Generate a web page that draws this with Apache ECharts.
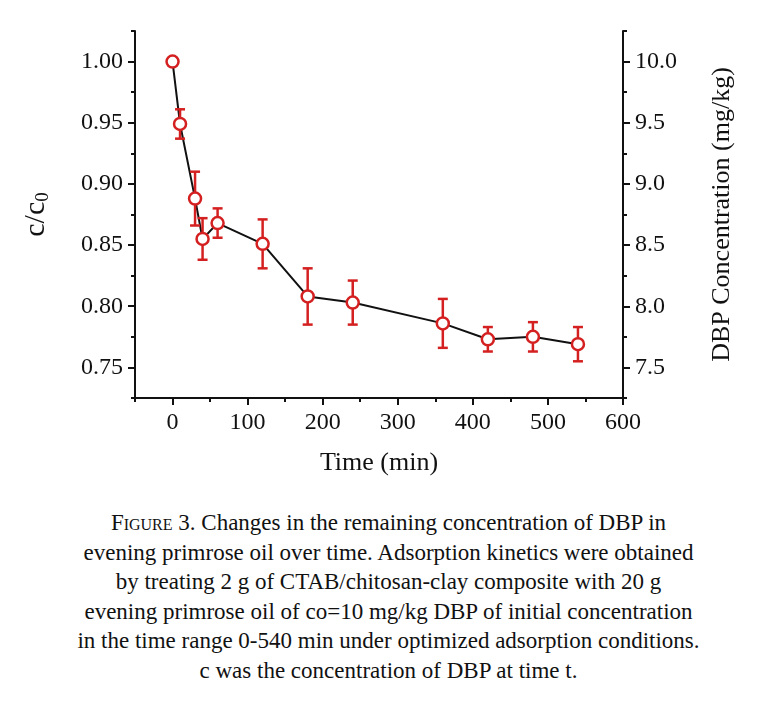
<!DOCTYPE html>
<html><head><meta charset="utf-8">
<script src="https://cdn.jsdelivr.net/npm/echarts@6/dist/echarts.min.js"></script>
<style>
body{margin:0;background:#fff;}
#c{position:absolute;left:0;top:0;width:777px;height:500px;}
#cap{position:absolute;left:0;top:508px;width:777px;text-align:center;font-family:"Liberation Serif","Times New Roman",serif;font-size:23px;line-height:29.5px;color:#111;}
.sc{font-variant:small-caps;}
</style></head>
<body>
<div id="c"></div>
<div id="cap"><span class="sc">Figure</span> 3. Changes in the remaining concentration of DBP in<br>evening primrose oil over time. Adsorption kinetics were obtained<br>by treating 2 g of CTAB/chitosan-clay composite with 20 g<br>evening primrose oil of co=10 mg/kg DBP of initial concentration<br>in the time range 0-540 min under optimized adsorption conditions.<br>c was the concentration of DBP at time t.</div>
<script>
const times = [0, 10, 30, 40, 60, 120, 180, 240, 360, 420, 480, 540];
const ratio = [1.000, 0.949, 0.888, 0.855, 0.868, 0.851, 0.808, 0.803, 0.786, 0.773, 0.775, 0.769];
const errs  = [0, 0.012, 0.022, 0.017, 0.012, 0.020, 0.023, 0.018, 0.020, 0.010, 0.012, 0.014];
const xTicks = [0, 100, 200, 300, 400, 500, 600];
const leftTicks = [0.75, 0.80, 0.85, 0.90, 0.95, 1.00];
const rightTicks = [7.5, 8.0, 8.5, 9.0, 9.5, 10.0];

const font = '"Liberation Serif","Times New Roman",serif';
const red = '#d42020';
const chart = echarts.init(document.getElementById('c'));
const pts = times.map((t,i)=>[t, ratio[i]]);
const errData = times.map((t,i)=>[t, ratio[i]-errs[i], ratio[i]+errs[i]]);
const lineStyle = {color:'#111', width:2};
const base = {axisLine:{show:false,onZero:false}, splitLine:{show:false}, axisLabel:{show:false}, axisTick:{show:true,inside:false,length:4,lineStyle:{color:'#111',width:2}}};
chart.setOption({
  animation:false,
  grid:{left:135, right:154, top:31, height:367},
  xAxis:[
    {type:'value', min:-50, max:600, position:'bottom',
     axisLine:{show:true,onZero:false,lineStyle:lineStyle}, splitLine:{show:false},
     axisTick:{show:true,customValues:xTicks,length:7,lineStyle:lineStyle},
     axisLabel:{customValues:xTicks,color:'#111',fontFamily:font,fontSize:24,margin:13},
     name:'Time (min)', nameLocation:'middle', nameGap:52,
     nameTextStyle:{color:'#111',fontFamily:font,fontSize:26}},
    Object.assign({type:'value', min:-50, max:600, interval:50, position:'bottom'}, base)
  ],
  yAxis:[
    {type:'value', min:0.725, max:1.025, position:'left',
     axisLine:{show:true,onZero:false,lineStyle:lineStyle}, splitLine:{show:false},
     axisTick:{show:true,customValues:leftTicks,length:7,lineStyle:lineStyle},
     axisLabel:{customValues:leftTicks,color:'#111',fontFamily:font,fontSize:24,margin:12,formatter:v=>v.toFixed(2)},
     name:'c/c{s|0}', nameLocation:'middle', nameGap:82, nameRotate:90,
     nameTextStyle:{color:'#111',fontFamily:font,fontSize:30,rich:{s:{fontFamily:font,fontSize:19,verticalAlign:'bottom',padding:[14,0,0,0]}}}},
    Object.assign({type:'value', min:0.725, max:1.025, interval:0.025, position:'left'}, base),
    {type:'value', min:7.25, max:10.25, position:'right',
     axisLine:{show:true,onZero:false,lineStyle:lineStyle}, splitLine:{show:false},
     axisTick:{show:true,customValues:rightTicks,length:7,lineStyle:lineStyle},
     axisLabel:{customValues:rightTicks,color:'#111',fontFamily:font,fontSize:24,margin:12,formatter:v=>v.toFixed(1)},
     name:'DBP Concentration (mg/kg)', nameLocation:'middle', nameGap:86, nameRotate:90,
     nameTextStyle:{color:'#111',fontFamily:font,fontSize:26}},
    Object.assign({type:'value', min:7.25, max:10.25, interval:0.25, position:'right'}, base)
  ],
  series:[
    {type:'line', data:pts, symbol:'none', lineStyle:{color:'#111',width:2}, z:2},
    {type:'custom', z:3, data:errData, renderItem:(params, api)=>{
      const x = api.value(0);
      const lo = api.coord([x, api.value(1)]);
      const hi = api.coord([x, api.value(2)]);
      if (api.value(2)-api.value(1) < 1e-6) return null;
      const st = {stroke:red, lineWidth:2.5};
      return {type:'group', children:[
        {type:'line', shape:{x1:lo[0],y1:lo[1],x2:hi[0],y2:hi[1]}, style:st},
        {type:'line', shape:{x1:lo[0]-5,y1:lo[1],x2:lo[0]+5,y2:lo[1]}, style:st},
        {type:'line', shape:{x1:hi[0]-5,y1:hi[1],x2:hi[0]+5,y2:hi[1]}, style:st}
      ]};
    }},
    {type:'scatter', z:4, data:pts, symbol:'circle', symbolSize:12,
     itemStyle:{color:'#fff', borderColor:red, borderWidth:2.5, opacity:1}}
  ]
});
</script>
</body></html>
